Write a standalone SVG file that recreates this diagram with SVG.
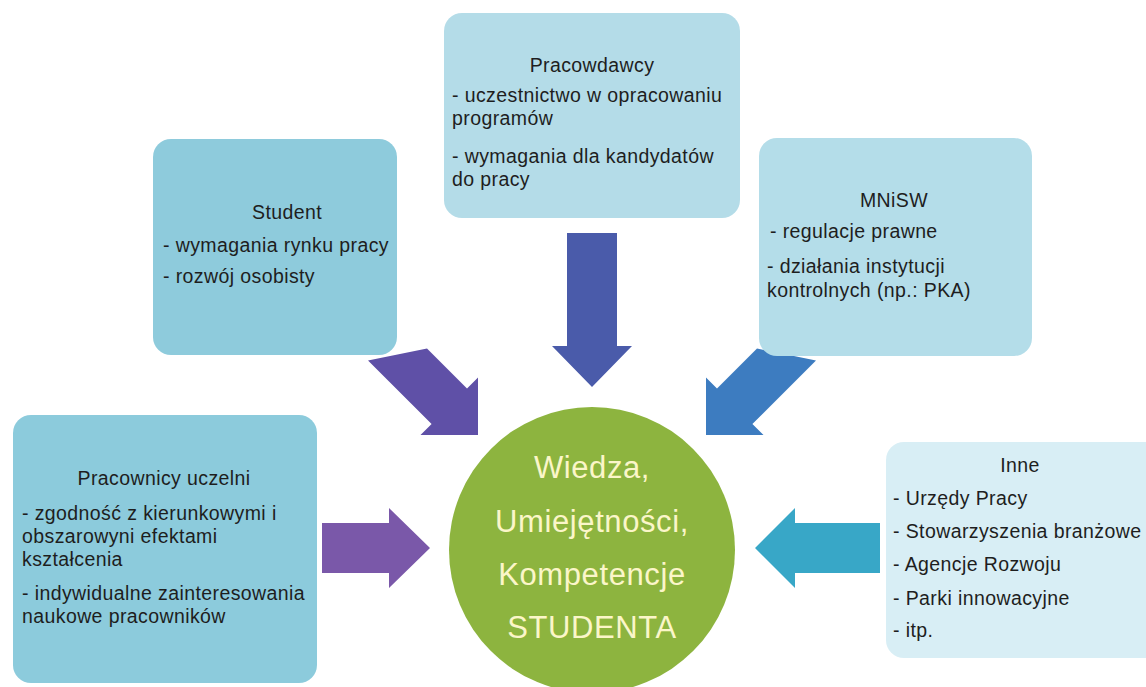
<svg xmlns="http://www.w3.org/2000/svg" width="1146" height="687" viewBox="0 0 1146 687">
<style>
.t{font-family:"Liberation Sans",Arial,sans-serif;font-size:19.5px;fill:#1e1e1e;letter-spacing:0.4px}
.c{text-anchor:middle}
.big{font-family:"Liberation Sans",Arial,sans-serif;font-size:31px;fill:#fbf6c9;text-anchor:middle;letter-spacing:0.6px}
</style>
<rect width="1146" height="687" fill="#ffffff"/>
<g id="connectors">
<polygon fill="#4a5baa" points="567,233 617,233 617,346 632,346 592,387 552,346 567,346"/>
<polygon fill="#5f50a7" points="427,348.6 467,388.6 478,377.5 478,435 420.5,435 431.6,424 368,360.4"/>
<polygon fill="#3d7cc0" points="757,348.6 717,388.6 706,377.5 706,435 763.5,435 752.4,424 816,360.4"/>
<polygon fill="#7a58a9" points="322,523 389,523 389,508 430,548 389,588 389,573 322,573"/>
<polygon fill="#38a7c7" points="880,523 795,523 795,508 755,548 795,588 795,573 880,573"/>
</g>
<g id="pracodawcy">
<rect x="444" y="13" width="296" height="205" rx="18" fill="#b4dce8"/>
<text class="t c" x="592" y="72">Pracowdawcy</text>
<text class="t" x="452" y="102">- uczestnictwo w opracowaniu</text>
<text class="t" x="452" y="125">programów</text>
<text class="t" x="452" y="163">- wymagania dla kandydatów</text>
<text class="t" x="452" y="186">do pracy</text>
</g>
<g id="student">
<rect x="153" y="139" width="244" height="216" rx="18" fill="#8ecbdc"/>
<text class="t c" x="287" y="219">Student</text>
<text class="t" x="163" y="252">- wymagania rynku pracy</text>
<text class="t" x="163" y="283">- rozwój osobisty</text>
</g>
<g id="mnisw">
<rect x="759" y="138" width="273" height="218" rx="18" fill="#b4dde9"/>
<text class="t c" x="894" y="207">MNiSW</text>
<text class="t" x="770" y="238">- regulacje prawne</text>
<text class="t" x="767" y="273">- działania instytucji</text>
<text class="t" x="767" y="297">kontrolnych (np.: PKA)</text>
</g>
<g id="pracownicy">
<rect x="13" y="415" width="304" height="268" rx="18" fill="#8ccbdc"/>
<text class="t c" x="164" y="485">Pracownicy uczelni</text>
<text class="t" x="22" y="520">- zgodność z kierunkowymi i</text>
<text class="t" x="22" y="543">obszarowyni efektami</text>
<text class="t" x="22" y="566">kształcenia</text>
<text class="t" x="22" y="600">- indywidualne zainteresowania</text>
<text class="t" x="22" y="623">naukowe pracowników</text>
</g>
<g id="inne">
<rect x="886" y="442" width="280" height="216" rx="18" fill="#d8eef5"/>
<text class="t c" x="1020" y="472">Inne</text>
<text class="t" x="893" y="505">- Urzędy Pracy</text>
<text class="t" x="893" y="538">- Stowarzyszenia branżowe</text>
<text class="t" x="893" y="571">- Agencje Rozwoju</text>
<text class="t" x="893" y="605">- Parki innowacyjne</text>
<text class="t" x="893" y="637">- itp.</text>
</g>
<g id="center">
<circle cx="592" cy="550" r="143" fill="#8db43f"/>
<text class="big" x="592" y="478">Wiedza,</text>
<text class="big" x="592" y="532">Umiejętności,</text>
<text class="big" x="592" y="585">Kompetencje</text>
<text class="big" x="592" y="638">STUDENTA</text>
</g>
</svg>
